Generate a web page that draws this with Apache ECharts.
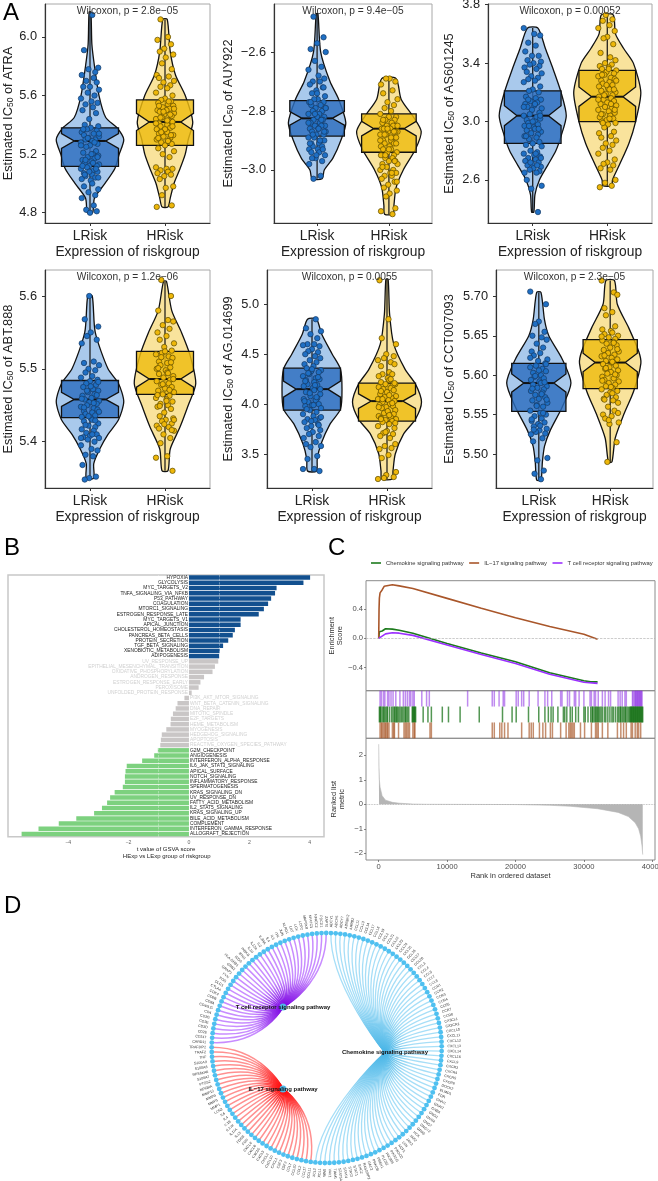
<!DOCTYPE html>
<html><head><meta charset="utf-8"><style>html,body{margin:0;padding:0;background:#fff}#c{width:658px;height:1181px}</style>
<script src="https://cdn.jsdelivr.net/npm/echarts@6/dist/echarts.min.js"></script></head>
<body><div id="c"></div><script>
const groupNames=["LRisk","HRisk"];
const jitter=[.03,-.08,.11,-.02,.07,-.11,.05,-.05,.09,.0,-.09,.12,-.03,.06,-.12,.02,.1,-.06,.04,-.1,.08,-.01,-.07,.11,.01,-.04,.09,-.11,.05,-.08,.12,-.02,.07,-.06,.03,-.12,.1,.0,-.05,.08,-.09,.04,.11,-.03,.06,-.1,.02,-.07,.12,-.01,.09,-.04,-.12,.05,.1,-.08,.03,-.06,.07,-.11,.01];
// violins: [value, half width]
const atraVL=[[6.17,.012],[5.95,.025],[5.8,.06],[5.6,.12],[5.45,.21],[5.38,.36],[5.3,.45],[5.2,.39],[5.1,.33],[5,.2],[4.9,.06],[4.8,.035]];
const atraVH=[[6.12,.03],[5.9,.07],[5.74,.14],[5.6,.27],[5.42,.37],[5.3,.31],[5.2,.27],[5.1,.2],[5,.12],[4.9,.07],[4.84,.04]];
const auyVL=[[-2.47,.012],[-2.6,.05],[-2.7,.18],[-2.76,.3],[-2.84,.4],[-2.9,.33],[-2.96,.22],[-3,.1],[-3.03,.07]];
const auyVH=[[-2.69,.1],[-2.76,.17],[-2.82,.34],[-2.87,.45],[-2.93,.37],[-3,.2],[-3.06,.1],[-3.12,.07],[-3.15,.06]];
const asVL=[[3.64,.07],[3.5,.17],[3.35,.28],[3.2,.38],[3.04,.45],[2.9,.38],[2.8,.31],[2.7,.2],[2.6,.09],[2.5,.03],[2.38,.015]];
const asVH=[[3.73,.08],[3.6,.11],[3.5,.22],[3.4,.35],[3.2,.45],[3,.38],[2.85,.29],[2.7,.16],[2.6,.07],[2.56,.06]];
const abtVL=[[5.6,.03],[5.55,.07],[5.5,.24],[5.48,.38],[5.455,.45],[5.43,.38],[5.41,.24],[5.39,.13],[5.37,.05],[5.35,.05]];
const abtVH=[[5.62,.02],[5.58,.09],[5.55,.22],[5.52,.33],[5.48,.41],[5.45,.31],[5.42,.2],[5.39,.07],[5.36,.04]];
const agVL=[[4.85,.06],[4.7,.13],[4.5,.27],[4.35,.38],[4.15,.4],[3.95,.38],[3.8,.24],[3.6,.12],[3.45,.07],[3.33,.06]];
const agVH=[[5.25,.015],[4.9,.035],[4.6,.09],[4.35,.24],[4.2,.38],[4.02,.46],[3.85,.38],[3.7,.22],[3.5,.11],[3.33,.08],[3.25,.07]];
const cctVL=[[5.705,.03],[5.67,.08],[5.65,.14],[5.62,.33],[5.59,.45],[5.56,.33],[5.53,.16],[5.51,.08],[5.49,.05],[5.467,.03]];
const cctVH=[[5.72,.06],[5.69,.1],[5.66,.26],[5.63,.4],[5.615,.43],[5.58,.33],[5.55,.19],[5.52,.07],[5.49,.025]];
// boxes: q1, median, q3
const atraB=[[5.116,5.29,5.38],[5.26,5.42,5.57]];
const auyB=[[-2.885,-2.825,-2.765],[-2.94,-2.86,-2.81]];
const asB=[[2.85,3.04,3.21],[3,3.17,3.35]];
const abtB=[[5.433,5.458,5.484],[5.465,5.486,5.524]];
const agB=[[3.94,4.15,4.36],[3.83,4.03,4.21]];
const cctB=[[5.554,5.59,5.615],[5.583,5.616,5.645]];
// points
const atraL=[6.15,5.91,5.79,5.78,5.76,5.74,5.72,5.7,5.69,5.66,5.66,5.64,5.62,5.6,5.58,5.56,5.55,5.54,5.52,5.5,5.48,5.44,5.4,5.39,5.38,5.37,5.36,5.35,5.34,5.33,5.32,5.31,5.3,5.3,5.29,5.28,5.27,5.26,5.25,5.22,5.21,5.2,5.19,5.18,5.17,5.16,5.15,5.14,5.13,5.12,5.12,5.11,5.1,5.09,5.08,5.07,5.06,5.05,5.04,5.03,5.02,5,4.98,4.96,4.94,4.92,4.9,4.85,4.82,4.81,4.8,5.37,5.34,5.31,5.28,5.26,5.2,5.18,5.16,5.14,5.12,5.1,5.08,5.06,5.04];
const atraH=[6.12,6,5.98,5.95,5.92,5.9,5.88,5.86,5.82,5.78,5.74,5.73,5.72,5.7,5.69,5.67,5.66,5.65,5.62,5.6,5.58,5.57,5.56,5.55,5.54,5.53,5.52,5.51,5.5,5.5,5.49,5.48,5.47,5.46,5.45,5.44,5.43,5.42,5.41,5.4,5.39,5.38,5.37,5.36,5.35,5.34,5.33,5.32,5.31,5.3,5.29,5.28,5.27,5.26,5.24,5.22,5.2,5.18,5.11,5.1,5.1,5.09,5.08,5.07,5.06,5.05,5.03,4.98,4.97,4.92,4.85,4.84,5.56,5.53,5.51,5.49,5.47,5.45,5.43,5.41,5.39,5.37,5.35,5.33,5.31,5.29];
const auyL=[-2.48,-2.55,-2.57,-2.59,-2.6,-2.63,-2.65,-2.66,-2.68,-2.69,-2.7,-2.7,-2.71,-2.72,-2.73,-2.74,-2.75,-2.76,-2.76,-2.77,-2.77,-2.78,-2.78,-2.79,-2.79,-2.8,-2.8,-2.81,-2.81,-2.82,-2.82,-2.83,-2.83,-2.84,-2.84,-2.85,-2.85,-2.85,-2.86,-2.86,-2.87,-2.87,-2.88,-2.88,-2.89,-2.89,-2.9,-2.9,-2.91,-2.91,-2.92,-2.92,-2.93,-2.93,-2.94,-2.94,-2.95,-2.96,-2.97,-2.98,-3.02,-3.03,-2.72,-2.74,-2.77,-2.79,-2.81,-2.83,-2.84,-2.86,-2.87,-2.88,-2.9,-2.91,-2.93,-2.95,-2.96];
const auyH=[-2.69,-2.69,-2.7,-2.71,-2.73,-2.74,-2.76,-2.77,-2.78,-2.79,-2.8,-2.81,-2.82,-2.82,-2.83,-2.83,-2.84,-2.84,-2.85,-2.85,-2.85,-2.86,-2.86,-2.86,-2.87,-2.87,-2.87,-2.88,-2.88,-2.89,-2.89,-2.9,-2.9,-2.91,-2.91,-2.92,-2.92,-2.93,-2.93,-2.94,-2.94,-2.95,-2.95,-2.96,-2.96,-2.97,-2.97,-2.98,-2.98,-2.99,-3,-3,-3.01,-3.01,-3.02,-3.02,-3.03,-3.04,-3.05,-3.06,-3.07,-3.08,-3.09,-3.13,-3.14,-3.15,-2.83,-2.85,-2.86,-2.87,-2.88,-2.89,-2.9,-2.91,-2.93,-2.95,-2.97,-2.99,-3.01,-3.04];
const asL=[3.64,3.6,3.59,3.54,3.52,3.48,3.45,3.45,3.42,3.41,3.4,3.39,3.38,3.37,3.36,3.34,3.33,3.31,3.3,3.29,3.28,3.27,3.24,3.22,3.21,3.2,3.17,3.16,3.15,3.14,3.13,3.12,3.11,3.1,3.09,3.08,3.06,3.05,3.04,3.03,3.02,3.01,3,2.99,2.98,2.97,2.96,2.95,2.94,2.93,2.92,2.91,2.9,2.89,2.88,2.86,2.85,2.84,2.83,2.8,2.79,2.78,2.77,2.76,2.75,2.74,2.73,2.72,2.71,2.7,2.69,2.68,2.67,2.66,2.65,2.65,2.6,2.56,2.54,2.38,3.15,3.12,3.1,3.04,3,2.97,2.95,2.9,2.78,2.75,2.72,2.7];
const asH=[3.73,3.7,3.69,3.66,3.64,3.62,3.58,3.57,3.53,3.47,3.44,3.42,3.4,3.39,3.38,3.37,3.36,3.35,3.34,3.33,3.32,3.31,3.3,3.29,3.28,3.27,3.26,3.25,3.24,3.23,3.22,3.21,3.2,3.19,3.18,3.17,3.16,3.15,3.14,3.13,3.12,3.11,3.1,3.09,3.08,3.07,3.06,3.05,3.04,3.03,3.02,3.01,3,2.99,2.98,2.96,2.93,2.92,2.9,2.89,2.87,2.85,2.84,2.82,2.8,2.78,2.74,2.72,2.71,2.7,2.68,2.67,2.6,2.58,2.56,2.55,3.36,3.32,3.28,3.25,3.22,3.18,3.15,3.12,3.08,3.05,3.02,2.99];
const abtL=[5.6,5.568,5.558,5.55,5.545,5.54,5.535,5.51,5.508,5.505,5.5,5.498,5.495,5.49,5.488,5.485,5.483,5.48,5.478,5.475,5.472,5.47,5.468,5.465,5.463,5.46,5.458,5.456,5.454,5.452,5.45,5.448,5.446,5.444,5.442,5.44,5.438,5.436,5.434,5.432,5.43,5.428,5.425,5.422,5.42,5.417,5.415,5.412,5.41,5.408,5.406,5.405,5.403,5.4,5.395,5.39,5.388,5.382,5.38,5.368,5.352,5.35,5.348,5.482,5.476,5.47,5.464,5.459,5.453,5.447,5.441,5.435,5.429,5.423,5.41,5.405];
const abtH=[5.622,5.6,5.58,5.567,5.565,5.56,5.555,5.55,5.545,5.54,5.535,5.53,5.525,5.522,5.52,5.517,5.515,5.51,5.508,5.505,5.502,5.5,5.498,5.495,5.493,5.49,5.488,5.485,5.483,5.48,5.478,5.475,5.473,5.47,5.468,5.465,5.463,5.46,5.458,5.455,5.452,5.45,5.448,5.445,5.44,5.435,5.432,5.43,5.428,5.425,5.422,5.42,5.418,5.415,5.41,5.405,5.398,5.38,5.378,5.36,5.524,5.516,5.509,5.501,5.494,5.486,5.479,5.471,5.464,5.456,5.449,5.43,5.424,5.416];
const agL=[4.85,4.76,4.73,4.7,4.66,4.6,4.6,4.59,4.58,4.55,4.53,4.52,4.5,4.48,4.46,4.44,4.42,4.4,4.38,4.36,4.34,4.33,4.32,4.3,4.28,4.26,4.25,4.24,4.22,4.2,4.19,4.18,4.16,4.14,4.12,4.1,4.08,4.06,4.05,4.04,4.02,4,3.99,3.98,3.96,3.94,3.92,3.9,3.88,3.86,3.85,3.84,3.82,3.8,3.78,3.76,3.74,3.72,3.7,3.68,3.66,3.62,3.6,3.58,3.57,3.48,3.45,3.35,3.35,3.33,4.35,4.31,4.27,4.23,4.19,4.15,4.11,4.07,4.03,3.99,3.95,3.87,3.83,3.79];
const agH=[5.24,4.85,4.66,4.6,4.5,4.48,4.46,4.44,4.42,4.4,4.38,4.32,4.3,4.3,4.28,4.26,4.24,4.22,4.2,4.2,4.18,4.17,4.16,4.15,4.14,4.12,4.1,4.08,4.07,4.06,4.05,4.04,4.03,4.02,4,3.99,3.98,3.97,3.96,3.94,3.92,3.91,3.9,3.88,3.87,3.86,3.85,3.84,3.83,3.82,3.8,3.78,3.76,3.73,3.71,3.7,3.68,3.66,3.6,3.58,3.56,3.55,3.49,3.46,3.32,3.29,3.27,3.26,3.25,4.25,4.21,4.13,4.09,4.05,4.01,3.97,3.93,3.89,3.85,3.81,3.72];
const cctL=[5.706,5.69,5.668,5.665,5.655,5.65,5.648,5.645,5.64,5.635,5.63,5.628,5.625,5.62,5.618,5.615,5.612,5.61,5.608,5.605,5.603,5.6,5.598,5.596,5.594,5.592,5.59,5.588,5.586,5.584,5.582,5.58,5.578,5.575,5.572,5.57,5.568,5.565,5.562,5.56,5.555,5.552,5.55,5.548,5.545,5.542,5.54,5.538,5.535,5.532,5.53,5.528,5.526,5.525,5.52,5.516,5.495,5.492,5.479,5.475,5.468,5.622,5.614,5.606,5.599,5.591,5.583,5.576,5.569,5.561,5.552,5.544,5.536,5.531];
const cctH=[5.72,5.705,5.702,5.685,5.68,5.676,5.662,5.658,5.656,5.654,5.652,5.65,5.648,5.646,5.644,5.642,5.64,5.638,5.635,5.632,5.63,5.628,5.626,5.624,5.622,5.62,5.618,5.616,5.614,5.612,5.61,5.608,5.606,5.604,5.602,5.6,5.598,5.596,5.594,5.592,5.59,5.588,5.586,5.584,5.582,5.58,5.578,5.575,5.572,5.57,5.568,5.565,5.56,5.555,5.55,5.548,5.545,5.54,5.538,5.515,5.49,5.649,5.641,5.633,5.625,5.617,5.609,5.601,5.593,5.585,5.577,5.569,5.552,5.543];
const atraTicks=[4.8,5.2,5.6,6.0],auyTicks=[-3.0,-2.8,-2.6],asTicks=[2.6,3.0,3.4,3.8],abtTicks=[5.4,5.5,5.6],agTicks=[3.5,4.0,4.5,5.0],cctTicks=[5.5,5.55,5.6,5.65,5.7];
// panel B
const gsvaNames=["HYPOXIA","GLYCOLYSIS","MYC_TARGETS_V2","TNFA_SIGNALING_VIA_NFKB","P53_PATHWAY","COAGULATION","MTORC1_SIGNALING","ESTROGEN_RESPONSE_LATE","MYC_TARGETS_V1","APICAL_JUNCTION","CHOLESTEROL_HOMEOSTASIS","PANCREAS_BETA_CELLS","PROTEIN_SECRETION","TGF_BETA_SIGNALING","XENOBIOTIC_METABOLISM","ADIPOGENESIS","UV_RESPONSE_UP","EPITHELIAL_MESENCHYMAL_TRANSITION","OXIDATIVE_PHOSPHORYLATION","ANDROGEN_RESPONSE","ESTROGEN_RESPONSE_EARLY","PEROXISOME","UNFOLDED_PROTEIN_RESPONSE","PI3K_AKT_MTOR_SIGNALING","WNT_BETA_CATENIN_SIGNALING","DNA_REPAIR","MITOTIC_SPINDLE","E2F_TARGETS","HEME_METABOLISM","MYOGENESIS","HEDGEHOG_SIGNALING","APOPTOSIS","REACTIVE_OXYGEN_SPECIES_PATHWAY","G2M_CHECKPOINT","ANGIOGENESIS","INTERFERON_ALPHA_RESPONSE","IL6_JAK_STAT3_SIGNALING","APICAL_SURFACE","NOTCH_SIGNALING","INFLAMMATORY_RESPONSE","SPERMATOGENESIS","KRAS_SIGNALING_DN","UV_RESPONSE_DN","FATTY_ACID_METABOLISM","IL2_STAT5_SIGNALING","KRAS_SIGNALING_UP","BILE_ACID_METABOLISM","COMPLEMENT","INTERFERON_GAMMA_RESPONSE","ALLOGRAFT_REJECTION"];
const gsvaT=[4.01,3.79,2.9,2.85,2.72,2.62,2.48,2.31,1.71,1.71,1.52,1.45,1.3,1.13,1.02,1,.97,.86,.78,.5,.38,.32,.09,-.15,-.38,-.44,-.53,-.6,-.61,-.75,-.9,-.93,-.95,-1.03,-1.15,-1.55,-2.06,-2.1,-2.12,-2.12,-2.19,-2.46,-2.61,-2.71,-2.88,-3.14,-3.73,-4.31,-4.98,-5.54];
// panel C
const il17ES=[[0,0],[50,.4],[100,.55],[200,.62],[500,.66],[800,.71],[1000,.72],[2000,.73],[3000,.715],[5000,.68],[10000,.545],[15000,.41],[20000,.28],[25000,.16],[30000,.055],[32000,-.014]];
const chemES=[[0,0],[100,.09],[500,.1],[1000,.13],[2000,.125],[3000,.11],[5000,.07],[10000,-.07],[15000,-.2],[20000,-.32],[25000,-.47],[30000,-.58],[31000,-.595],[32000,-.595]];
const tcrES=[[0,0],[500,.03],[1000,.06],[2000,.075],[3000,.07],[5000,.04],[10000,-.09],[15000,-.22],[20000,-.345],[25000,-.49],[30000,-.6],[32000,-.615]];
const rankMetric=[[0,2.45],[50,1.5],[100,1],[200,.7],[500,.35],[1000,.17],[2000,.08],[3000,.045],[5000,.01],[7000,0],[20000,-.01],[25000,-.04],[28000,-.08],[32000,-.18],[35000,-.33],[36500,-.5],[37500,-.75],[38000,-1],[38300,-1.3],[38500,-1.7],[38600,-2.05]];
const tcrRug=[.2,.4,.7,.9,1.3,1.5,1.8,2.1,2.5,3.1,3.6,3.9,4.2,4.5,4.7,5,5.2,6.3,7,7.4,13,16.6,16.9,17.6,18.2,18.4,20.1,20.4,20.9,21.2,22,23.3,24.3,24.7,25.3,26.6,26.8,27.6,27.9,28.6,28.8,29.3,30,30.9,31.1,31.5,31.7,32.1,32.7,33.1,33.6,33.9,35,35.3,35.6,36,36.2,37.1,37.2,37.4,37.5,37.6,37.7,37.8,37.9,38,38.1,38.2,38.3,38.4,38.5];
const chemRug=[.1,.2,.3,.5,.7,.8,1,1.2,1.3,1.6,1.9,2.1,2.3,2.4,2.6,2.7,2.9,3.1,3.3,3.5,3.7,3.9,4,4.2,4.4,4.9,5,5.1,5.2,5.3,5.4,6.5,7.2,7.7,9.3,10.2,11.9,14.7,18.1,19.5,20.1,21.9,23.4,24.3,24.8,25.2,25.5,26.2,27,27.2,27.5,28,28.3,28.8,29.2,30,30.2,30.6,31,31.2,31.3,31.5,31.7,31.8,32,32.1,32.3,32.5,32.7,33,33.2,33.5,33.8,34.1,34.3,34.6,34.9,35.1,35.3,35.4,35.6,35.8,36,36.1,36.3,36.5,36.7,36.8,36.9,37,37.1,37.2,37.3,37.4,37.5,37.6,37.7,37.8,37.9,38,38.1,38.2,38.3,38.4,38.5,38.6];
const il17Rug=[.2,.4,.5,.7,.9,1,1.2,1.3,1.5,2,2.2,2.3,2.9,3.7,3.9,4.1,4.3,4.5,5,5.2,5.3,7.5,7.7,16.6,16.9,17.7,18,18.4,18.9,20.9,22,22.3,22.6,23.5,24,24.4,25.1,25.4,26.6,27.4,27.8,28,28.2,28.4,28.6,29.5,30.1,31.1,31.7,31.9,32.1,32.7,33.5,34.9,35.4,35.8,36.2,36.9,37.1,37.5,37.8,38,38.3];
// panel D
const il17Genes=["CCL11","CCL17","CCL2","CCL20","CCL7","CSF2","CSF3","CXCL1","CXCL10","CXCL2","CXCL3","CXCL5","CXCL6","CXCL8","FOS","FOSB","IL13","IL17A","IL17F","IL1B","IL4","IL6","LCN2","MMP1","MMP3","MMP9","MMP13","NFKBIA","PTGS2","S100A7","RPS6KA6","S100A8","S100A9","TNF","TRAF2","TRAF3IP2"];
const tcrGenes=["CARD11","CD247","CD28","CD3D","CD3E","CD3G","CD4","CD40LG","CD8A","CD8B","CDK4","CTLA4","DLG1","FOS","FYN","GRAP2","GRB2","HLA-DRB1","ICOS","IFNG","IKBKB","IL10","IL12A","IL2","IL2RA","IL4","IL5","ITK","JUN","KLRD1","LAT","LCK","LCP2","MAP3K8","NFATC1","NFATC2","PDCD1","ZAP70"];
const chemGenes=["ADCY1","ADCY5","ADCY7","ADRBK2","ARRB2","CCL11","CCL13","CCL14","CCL17","CCL18","CCL19","CCL2","CCL21","CCL22","CCL23","CCL24","CCL25","CCL26","CCL27","CCL28","CCL3","CCL4","CCL5","CCL7","CCL8","CCR1","CCR2","CCR3","CCR4","CCR5","CCR7","CCR8","CX3CL1","CX3CR1","CXCL10","CXCL11","CXCL12","CXCL13","CXCL14","CXCL16","CXCL9","CXCR3","CXCR4","CXCR5","CXCR6","DOCK2","ELMO1","FGR","GNAI1","GNAI2","GNB4","GNG2","GNG4","GNG7","GNGT2","GRK5","HCK","JAK2","JAK3","LYN","NCF1","PIK3CD","PIK3CG","PIK3R5","PLCB2","PREX1","PRKCB","RAC2","RASGRP2","SHC2","STAT1","STAT2","STAT4","STAT5A","TIAM1","VAV1","WAS","XCL1","XCL2"];

const F="Liberation Sans";
const FS=13.8,FY=12.8;
const grids=[],xAxes=[],yAxes=[],series=[],graphics=[];
const T=(s)=>String(s).replace(/-/g,'\u2212');
const groupStyle=[{v:'#a9c9ec',b:'rgba(44,110,190,.82)',p:'#1f6fc4',ps:'#153a63'},{v:'#f9e39c',b:'rgba(238,188,16,.82)',p:'#eeb70a',ps:'#5c4a00'}];
function addViolinPanel(o){
  const i=grids.length;
  grids.push({left:o.x0,top:o.y0,width:o.x1-o.x0,height:o.y1-o.y0,show:true,borderColor:'#a8a8a8',borderWidth:1,backgroundColor:'#fff',outerBoundsMode:'none',containLabel:false});
  xAxes.push({gridIndex:i,type:'value',min:.4,max:2.6,splitLine:{show:false},name:'Expression of riskgroup',nameLocation:'middle',nameGap:29,
    nameTextStyle:{fontFamily:F,fontSize:FS,color:'#222',verticalAlign:'middle'},
    axisLine:{onZero:false,lineStyle:{color:'#333',width:1.2}},
    axisTick:{length:3,lineStyle:{color:'#333'},customValues:[1,2]},
    axisLabel:{customValues:[1,2],formatter:v=>groupNames[Math.round(v)-1]||'',fontFamily:F,fontSize:FS,color:'#222',margin:6}});
  yAxes.push({gridIndex:i,type:'value',min:o.min,max:o.max,splitLine:{show:false},
    name:`{a|Estimated IC}{s|50}{a| of ${o.drug}}`,nameLocation:'middle',nameGap:o.nameGap,
    nameTextStyle:{rich:{a:{fontFamily:F,fontSize:FY,color:'#222'},s:{fontFamily:F,fontSize:8.5,color:'#222',padding:[5,0,0,0]}}},
    axisLine:{show:true,onZero:false,lineStyle:{color:'#333',width:1.2}},
    axisTick:{show:true,length:3,lineStyle:{color:'#333'},customValues:o.ticks},
    axisLabel:{customValues:o.ticks,formatter:v=>T(v.toFixed(o.dec)),fontFamily:F,fontSize:FY,color:'#222',margin:8}});
  [0,1].forEach(g=>{
    const st=groupStyle[g],cx=g+1,rows=o.violin[g],bx=o.box[g];
    series.push({type:'custom',xAxisIndex:i,yAxisIndex:i,z:2,silent:true,data:rows.map(r=>[cx+r[1],r[0]]),
      renderItem:(p,api)=>{ if(p.dataIndex!==0) return null;
        const pts=rows.map(r=>api.coord([cx+r[1],r[0]])).concat(rows.slice().reverse().map(r=>api.coord([cx-r[1],r[0]])));
        const a=api.coord([cx,rows[0][0]]),b=api.coord([cx,rows[rows.length-1][0]]);
        return {type:'group',children:[
          {type:'polygon',shape:{points:pts,smooth:.25},style:{fill:st.v,stroke:'#111',lineWidth:1.3}},
          {type:'line',shape:{x1:a[0],y1:a[1],x2:b[0],y2:b[1]},style:{stroke:'#111',lineWidth:1.2}}]};
      }});
    series.push({type:'custom',xAxisIndex:i,yAxisIndex:i,z:3,silent:true,data:[[cx,bx[1]]],
      renderItem:(p,api)=>{
        const hw=.38,nw=.21,nh=.19*(bx[2]-bx[0]);
        const C=(dx,y)=>api.coord([cx+dx,y]);
        const pts=[C(-hw,bx[0]),C(hw,bx[0]),C(hw,bx[1]-nh),C(nw,bx[1]),C(hw,bx[1]+nh),C(hw,bx[2]),C(-hw,bx[2]),C(-hw,bx[1]+nh),C(-nw,bx[1]),C(-hw,bx[1]-nh)];
        const l=C(-nw,bx[1]),r=C(nw,bx[1]);
        return {type:'group',children:[
          {type:'polygon',shape:{points:pts},style:{fill:st.b,stroke:'#111',lineWidth:1.3}},
          {type:'line',shape:{x1:l[0],y1:l[1],x2:r[0],y2:r[1]},style:{stroke:'#111',lineWidth:2}}]};
      }});
    series.push({type:'scatter',xAxisIndex:i,yAxisIndex:i,z:4,silent:true,symbolSize:5.4,
      data:o.pts[g].map((v,k)=>[cx+jitter[(k+g*17+i*7)%jitter.length],v]),
      itemStyle:{color:st.p,borderColor:st.ps,borderWidth:.7,opacity:1}});
  });
  graphics.push({type:'text',x:(o.x0+o.x1)/2,y:o.y0+7,z:50,style:{text:'Wilcoxon, p = '+T(o.p),font:`10.2px "${F}"`,fill:'#333',align:'center',verticalAlign:'middle'}});
}
addViolinPanel({x0:45,x1:210,y0:4,y1:223,min:4.73,max:6.225,drug:'ATRA',ticks:atraTicks,dec:1,nameGap:30,p:'2.8e-05',violin:[atraVL,atraVH],box:atraB,pts:[atraL,atraH]});
addViolinPanel({x0:274,x1:432,y0:4,y1:223,min:-3.18,max:-2.437,drug:'AUY922',ticks:auyTicks,dec:1,nameGap:39,p:'9.4e-05',violin:[auyVL,auyVH],box:auyB,pts:[auyL,auyH]});
addViolinPanel({x0:488,x1:652,y0:4,y1:223,min:2.305,max:3.805,drug:'AS601245',ticks:asTicks,dec:1,nameGap:32,p:'0.00052',violin:[asVL,asVH],box:asB,pts:[asL,asH]});
addViolinPanel({x0:45,x1:210,y0:270,y1:488,min:5.3364,max:5.6357,drug:'ABT.888',ticks:abtTicks,dec:1,nameGap:30,p:'1.2e-06',violin:[abtVL,abtVH],box:abtB,pts:[abtL,abtH]});
addViolinPanel({x0:267,x1:432,y0:270,y1:488,min:3.16,max:5.343,drug:'AG.014699',ticks:agTicks,dec:1,nameGap:32,p:'0.0055',violin:[agVL,agVH],box:agB,pts:[agL,agH]});
addViolinPanel({x0:496,x1:653,y0:270,y1:488,min:5.4569,max:5.7334,drug:'CCT007093',ticks:cctTicks,dec:2,nameGap:40,p:'2.3e-05',violin:[cctVL,cctVH],box:cctB,pts:[cctL,cctH]});

// Panel B
(function(){
  const i=grids.length;
  grids.push({left:8,top:575,width:316,height:261.7,show:true,borderColor:'#c8c8c8',borderWidth:1.5,outerBoundsMode:'none',containLabel:false});
  xAxes.push({gridIndex:i,type:'value',min:-5.99,max:4.47,splitLine:{show:false},axisLine:{show:false,onZero:false},
    axisTick:{length:2,lineStyle:{color:'#888',width:.6},customValues:[-4,-2,0,2,4]},
    axisLabel:{customValues:[-4,-2,0,2,4],formatter:v=>T(v),fontFamily:F,fontSize:5.2,color:'#666',margin:3}});
  yAxes.push({gridIndex:i,type:'category',inverse:true,data:gsvaNames,show:false});
  series.push({type:'bar',xAxisIndex:i,yAxisIndex:i,barWidth:4.5,silent:true,z:2,
    data:gsvaT.map(v=>{const sig=Math.abs(v)>=1;
      return {value:v,itemStyle:{color:!sig?'#c9c6c6':(v>0?'#12508f':'#7dd17f')},
      label:{show:true,position:v>0?'left':'right',distance:1,fontFamily:F,fontSize:4.85,color:sig?'#1a1a1a':'#d0d0d0',formatter:'{b}'}};}),
    markLine:{silent:true,symbol:'none',z:3,label:{show:false},lineStyle:{color:'rgba(255,255,255,.55)',type:'dashed',width:.6},data:[{xAxis:1},{xAxis:-1}]}});
  graphics.push({type:'text',x:166,y:849,style:{text:'t value of GSVA score',font:`6px "${F}"`,fill:'#222',align:'center',verticalAlign:'middle'}});
  graphics.push({type:'text',x:166.7,y:856,style:{text:'HExp vs LExp group of riskgroup',font:`6px "${F}"`,fill:'#222',align:'center',verticalAlign:'middle'}});
})();

// Panel C
(function(){
  const xMin=-1857,xMax=40395,L=366,W=289;
  const top=grids.length,mid=top+1,bot=top+2;
  const border='#8c8c8c';
  const gb={show:true,borderColor:border,borderWidth:1,outerBoundsMode:'none',containLabel:false};
  grids.push(Object.assign({left:L,top:580.7,width:W,height:110},gb));
  grids.push(Object.assign({left:L,top:690.7,width:W,height:47.6},gb));
  grids.push(Object.assign({left:L,top:738.3,width:W,height:121.7},gb));
  const yl=(ticks,dec)=>({axisLine:{show:false,onZero:false},splitLine:{show:false},axisTick:{show:true,length:2,lineStyle:{color:'#555',width:.7},customValues:ticks},
     axisLabel:{customValues:ticks,formatter:v=>T(v.toFixed(dec)),fontFamily:F,fontSize:7.6,color:'#4d4d4d',margin:3},
     nameLocation:'middle',nameTextStyle:{fontFamily:F,fontSize:7.4,color:'#333',lineHeight:8}});
  xAxes.push({gridIndex:top,type:'value',min:xMin,max:xMax,show:false});
  xAxes.push({gridIndex:mid,type:'value',min:xMin,max:xMax,show:false});
  const xt=[0,10000,20000,30000,40000];
  xAxes.push({gridIndex:bot,type:'value',min:xMin,max:xMax,splitLine:{show:false},axisLine:{show:false,onZero:false},
    axisTick:{show:true,length:2,lineStyle:{color:'#555',width:.7},customValues:xt},
    axisLabel:{customValues:xt,formatter:v=>String(v),fontFamily:F,fontSize:7.6,color:'#4d4d4d',margin:3,hideOverlap:false},
    name:'Rank in ordered dataset',nameLocation:'middle',nameGap:15,nameTextStyle:{fontFamily:F,fontSize:7.5,color:'#333',verticalAlign:'middle'}});
  yAxes.push(Object.assign({gridIndex:top,type:'value',min:-.715,max:.786,name:'Enrichment\nScore',nameGap:20},yl([-.4,0,.4],1)));
  yAxes.push({gridIndex:mid,type:'value',min:0,max:3,show:false});
  yAxes.push(Object.assign({gridIndex:bot,type:'value',min:-2.27,max:2.69,name:'Ranked list\nmetric',nameGap:20},yl([-2,-1,0,1,2],0)));
  const line=(name,data,color)=>({type:'line',name,xAxisIndex:top,yAxisIndex:top,data,showSymbol:false,smooth:false,silent:true,z:3,lineStyle:{color,width:1.6},itemStyle:{color}});
  series.push(Object.assign(line('Chemokine signaling pathway',chemES,'#1c7a1c'),{markLine:{silent:true,symbol:'none',label:{show:false},lineStyle:{color:'#aaa',type:'dashed',width:.6},data:[{yAxis:0}]}}));
  series.push(line('IL\u221217 signaling pathway',il17ES,'#a9562a'));
  series.push(line('T cell receptor signaling pathway',tcrES,'#9b30ff'));
  const rug=(list,row,color,op)=>series.push({type:'custom',xAxisIndex:mid,yAxisIndex:mid,silent:true,z:2,data:list.map(v=>[v*1000,row]),
    renderItem:(p,api)=>{const a=api.coord([api.value(0),row+1]),b=api.coord([api.value(0),row]);
      return {type:'rect',shape:{x:a[0]-.75,y:a[1],width:1.5,height:b[1]-a[1]},style:{fill:color,opacity:op}};}});
  rug(tcrRug,2,'#8a2be2',.55); rug(chemRug,1,'#0b6b0b',.7); rug(il17Rug,0,'#a5501e',.65);
  series.push({type:'line',xAxisIndex:bot,yAxisIndex:bot,data:rankMetric,showSymbol:false,silent:true,z:2,lineStyle:{color:'#b5b5b5',width:.6},areaStyle:{color:'#b5b5b5',opacity:1},
    markLine:{silent:true,symbol:'none',label:{show:false},lineStyle:{color:'#aaa',type:'dotted',width:.8},data:[{yAxis:0}]}});
})();

// Panel D
(function(){
  const i=grids.length,R=115,cx=326.7,cy=1048,span=1.15;
  grids.push({left:cx-R*span,top:cy-R*span,width:2*R*span,height:2*R*span,show:false,outerBoundsMode:'none',containLabel:false});
  xAxes.push({gridIndex:i,type:'value',min:-span,max:span,show:false});
  yAxes.push({gridIndex:i,type:'value',min:-span,max:span,show:false});
  const N=il17Genes.length+tcrGenes.length+chemGenes.length,step=2*Math.PI/N,start=262*Math.PI/180;
  const path=[{name:'IL\u221217 signaling pathway',genes:il17Genes,hub:[-.38,-.357],near:'#ff0000',far:'#ff9090',w:1.5},
    {name:'T cell receptor signaling pathway',genes:tcrGenes,hub:[-.38,.357],near:'#7a00e0',far:'#c88cff',w:1.5},
    {name:'Chemokine signaling pathway',genes:chemGenes,hub:[.507,-.04],near:'#45b4e6',far:'#a6def7',w:1.3}];
  let k=0;
  const nodes=[],labels=[];
  path.forEach(P=>{
    const items=P.genes.map(g=>{const t=start-(k++)*step;const it={g,t};nodes.push([Math.cos(t),Math.sin(t)]);labels.push(it);return it;});
    series.push({type:'custom',xAxisIndex:i,yAxisIndex:i,z:2,silent:true,data:items.map(it=>[Math.cos(it.t),Math.sin(it.t)]),
      renderItem:(p,api)=>{const x=api.value(0),y=api.value(1);
        const a=api.coord([x,y]),c1=api.coord([x*.55,y*.55]),h=api.coord(P.hub);
        return {type:'bezierCurve',shape:{x1:a[0],y1:a[1],x2:h[0],y2:h[1],cpx1:c1[0],cpy1:c1[1],cpx2:h[0],cpy2:h[1]},
          style:{fill:null,lineWidth:P.w,stroke:new echarts.graphic.LinearGradient(a[0],a[1],h[0],h[1],[{offset:0,color:P.far},{offset:.55,color:P.far},{offset:1,color:P.near}],true)}};}});
  });
  series.push({type:'scatter',xAxisIndex:i,yAxisIndex:i,z:3,silent:true,symbolSize:4.8,data:nodes,itemStyle:{color:'#4fc0f0',opacity:1}});
  series.push({type:'custom',xAxisIndex:i,yAxisIndex:i,z:3,silent:true,data:labels.map(l=>[Math.cos(l.t),Math.sin(l.t)]),
    renderItem:(p,api)=>{const l=labels[p.dataIndex],x=Math.cos(l.t),y=Math.sin(l.t),a=api.coord([x*1.05,y*1.05]),right=x>=-1e-6;
      return {type:'text',x:a[0],y:a[1],rotation:right?l.t:l.t+Math.PI,style:{text:l.g,fontSize:3.6,fontFamily:F,fill:'#333',align:right?'left':'right',verticalAlign:'middle'}};}});
  series.push({type:'scatter',xAxisIndex:i,yAxisIndex:i,z:4,silent:true,symbolSize:7,data:path.map(P=>({value:P.hub,name:P.name})),
    itemStyle:{color:'#4fb6e6',opacity:1},
    label:{show:true,position:'inside',formatter:'{b}',fontFamily:F,fontSize:6,fontWeight:'bold',color:'#111'}});
})();

// panel letters
[['A',3,13],['B',4,548],['C',328,548],['D',4,906]].forEach(a=>graphics.push({type:'text',x:a[1],y:a[2],z:60,style:{text:a[0],font:`24px "${F}"`,fill:'#000',align:'left',verticalAlign:'middle'}}));

const chart=echarts.init(document.getElementById('c'),null,{renderer:'canvas',width:658,height:1181});
chart.setOption({animation:false,backgroundColor:'#fff',textStyle:{fontFamily:F},grid:grids,xAxis:xAxes,yAxis:yAxes,series,
  legend:{show:true,left:371,top:560,width:400,itemWidth:10,itemHeight:1.6,itemGap:5.5,icon:'rect',orient:'horizontal',padding:0,
    data:['Chemokine signaling pathway','IL\u221217 signaling pathway','T cell receptor signaling pathway'],textStyle:{fontFamily:F,fontSize:5.85,color:'#333'}},
  graphic:graphics});
</script></body></html>
